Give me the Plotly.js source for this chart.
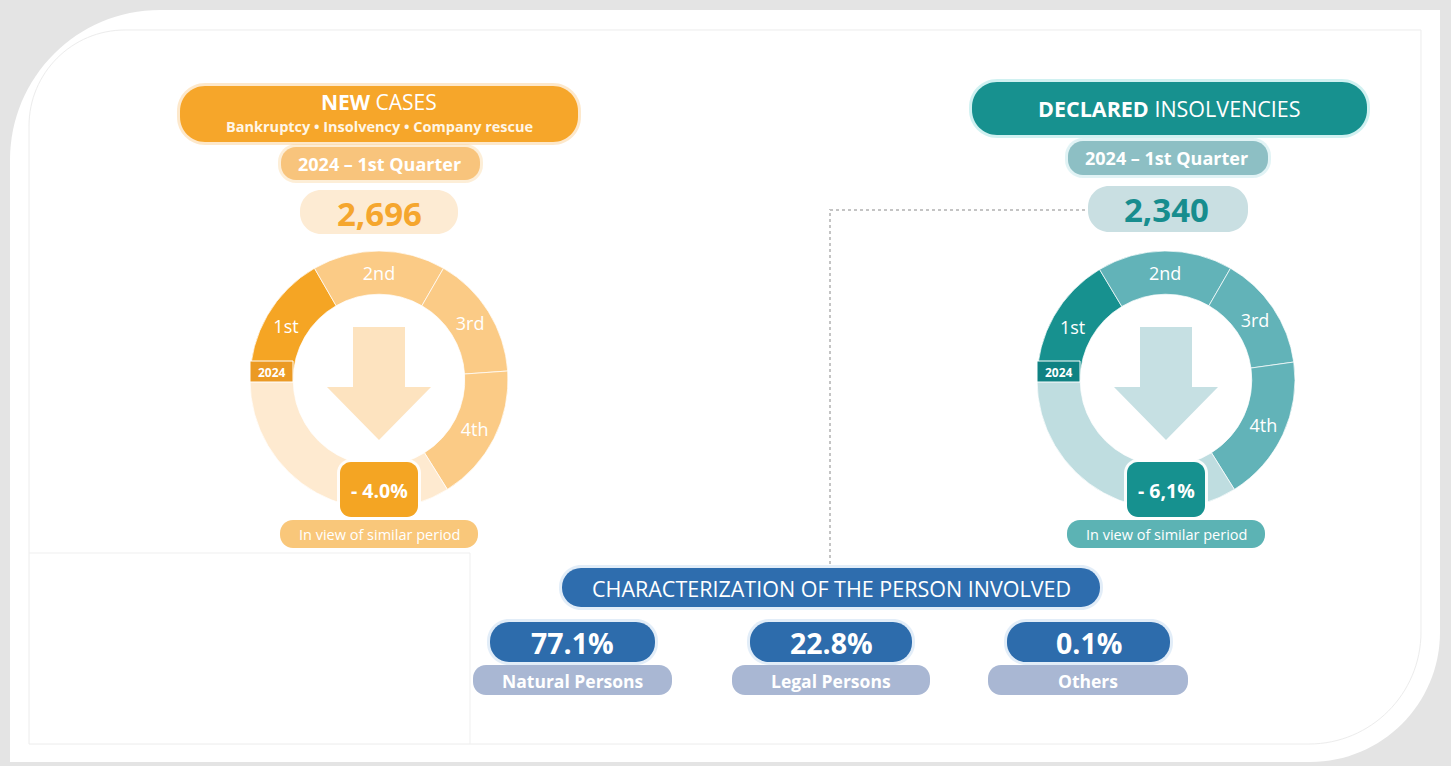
<!DOCTYPE html>
<html>
<head>
<meta charset="utf-8">
<script src="https://cdn.plot.ly/plotly-3.0.1.min.js"></script>
<style>html,body{margin:0;padding:0;background:#e4e4e4;}#chart{width:1451px;height:766px;}</style>
</head>
<body>
<div id="chart"></div>
<script>
// ---------------- DATA ----------------
const quarterLabels = ['1st', '2nd', '3rd', '4th'];
const periodLabel = '2024 – 1st Quarter';
const yearTag = '2024';
// arc sizes (degrees) of the quarter ring
const newCasesArcs = [60, 60, 56, 62];
const newCasesRest = [122];
const insolvencyArcs = [59, 61, 52, 66];
const insolvencyRest = [122];
const newCasesTotal = 2696;
const insolvencyTotal = 2340;
const newCasesChangeText = '- 4.0%';
const insolvencyChangeText = '- 6,1%';
const comparisonNote = 'In view of similar period';
const personCategories = ['Natural Persons', 'Legal Persons', 'Others'];
const personShares = [77.1, 22.8, 0.1];

// ---------------- HELPERS ----------------
const W = 1451, H = 766;
const FONT = '"Open Sans", "Noto Sans", sans-serif';
const px = x => x / W;
const py = y => 1 - y / H;
function rrPath(x0, y0, x1, y1, r) {
  const k = 0.5523 * r;
  const P = (x, y) => px(x).toFixed(5) + ',' + py(y).toFixed(5);
  return 'M' + P(x0 + r, y0) + ' L' + P(x1 - r, y0) +
    ' C' + P(x1 - r + k, y0) + ' ' + P(x1, y0 + r - k) + ' ' + P(x1, y0 + r) +
    ' L' + P(x1, y1 - r) +
    ' C' + P(x1, y1 - r + k) + ' ' + P(x1 - r + k, y1) + ' ' + P(x1 - r, y1) +
    ' L' + P(x0 + r, y1) +
    ' C' + P(x0 + r - k, y1) + ' ' + P(x0, y1 - r + k) + ' ' + P(x0, y1 - r) +
    ' L' + P(x0, y0 + r) +
    ' C' + P(x0, y0 + r - k) + ' ' + P(x0 + r - k, y0) + ' ' + P(x0 + r, y0) + ' Z';
}
function pathPx(cmds) {
  return cmds.map(c => {
    const pts = [];
    for (let i = 1; i < c.length; i += 2) pts.push(px(c[i]).toFixed(5) + ',' + py(c[i + 1]).toFixed(5));
    return c[0] + pts.join(' ');
  }).join(' ') + (cmds.closed === false ? '' : ' Z');
}
const shapes = [];
const annotations = [];
function pill(x0, y0, x1, y1, r, color, layer, glow) {
  if (glow) shapes.push({type: 'path', xref: 'paper', yref: 'paper', layer: layer || 'above',
    path: rrPath(x0 - 3, y0 - 3, x1 + 3, y1 + 3, r + 3), fillcolor: glow, line: {width: 0}});
  shapes.push({type: 'path', xref: 'paper', yref: 'paper', layer: layer || 'above',
    path: rrPath(x0, y0, x1, y1, r), fillcolor: color, line: {width: 0}});
}
function label(x, y, text, size, color, bold) {
  annotations.push({xref: 'paper', yref: 'paper', x: px(x), y: py(y), xanchor: 'center', yanchor: 'middle',
    text: bold ? '<b>' + text + '</b>' : text, showarrow: false,
    font: {family: FONT, size: size, color: color}});
}

// ---------------- BACKGROUND CARD ----------------
const k = 0.5523;
shapes.push({type: 'path', xref: 'paper', yref: 'paper', layer: 'below', fillcolor: '#ffffff', line: {width: 0},
  path: pathPx([['M', 160, 10], ['L', 1440, 10], ['L', 1440, 632],
    ['C', 1440, 632 + 130 * k, 1310 + 130 * k, 762, 1310, 762], ['L', 10, 762], ['L', 10, 160],
    ['C', 10, 160 - 150 * k, 160 - 150 * k, 10, 160, 10]])});
shapes.push({type: 'path', xref: 'paper', yref: 'paper', layer: 'below', fillcolor: 'rgba(0,0,0,0)',
  line: {width: 1, color: '#ececec'},
  path: pathPx([['M', 125, 30], ['L', 1421, 30], ['L', 1421, 632],
    ['C', 1421, 632 + 112 * k, 1309 + 112 * k, 744, 1309, 744], ['L', 29, 744], ['L', 29, 126],
    ['C', 29, 126 - 96 * k, 125 - 96 * k, 30, 125, 30]])});
shapes.push({type: 'line', xref: 'paper', yref: 'paper', layer: 'below', x0: px(29), x1: px(470), y0: py(553), y1: py(553), line: {width: 1, color: '#efefef'}});
shapes.push({type: 'line', xref: 'paper', yref: 'paper', layer: 'below', x0: px(470), x1: px(470), y0: py(553), y1: py(744), line: {width: 1, color: '#efefef'}});

// dotted connector
const dotted = [['M', 1085, 210], ['L', 830, 210], ['L', 830, 566]];
dotted.closed = false;
shapes.push({type: 'path', xref: 'paper', yref: 'paper', layer: 'below', fillcolor: 'rgba(0,0,0,0)',
  line: {width: 2, color: '#c4c4c4', dash: 'dot'}, path: pathPx(dotted)});

// ---------------- PANELS ----------------
function panel(cfg) {
  const cx = cfg.cx, cy = 380, R = 129;
  pill(cfg.head[0], cfg.head[1], cfg.head[2], cfg.head[3], 25, cfg.headColor, 'above', cfg.glow);
  pill(cfg.period[0], cfg.period[1], cfg.period[2], cfg.period[3], 15, cfg.periodColor, 'above', cfg.glow2);
  label(cx, (cfg.period[1] + cfg.period[3]) / 2, periodLabel, 18, '#ffffff', true);
  pill(cfg.total[0], cfg.total[1], cfg.total[2], cfg.total[3], 21, cfg.totalBg, 'above');
  label(cx, (cfg.total[1] + cfg.total[3]) / 2 + 1, cfg.totalValue.toLocaleString('en-US'), 33, cfg.totalColor, true);
  shapes.push({type: 'path', xref: 'paper', yref: 'paper', layer: 'above', fillcolor: cfg.arrowColor, line: {width: 0},
    path: pathPx([['M', cx - 26, 327], ['L', cx + 26, 327], ['L', cx + 26, 387], ['L', cx + 52, 387],
      ['L', cx, 440], ['L', cx - 52, 387], ['L', cx - 26, 387]])});
  shapes.push({type: 'rect', xref: 'paper', yref: 'paper', layer: 'above', x0: px(cx - R), x1: px(cx - R + 43),
    y0: py(361), y1: py(382), fillcolor: cfg.tagColor, line: {width: 1, color: '#ffffff'}});
  label(cx - R + 21.5, 372, yearTag, 12, '#ffffff', true);
  pill(cx - 39, 462, cx + 39, 517, 11, cfg.badgeColor, 'above', 'rgba(255,255,255,0.9)');
  label(cx, 490, cfg.changeText, 19.5, '#ffffff', true);
  pill(cx - 99, 520, cx + 99, 548, 13, cfg.noteColor, 'above');
  label(cx, 534, comparisonNote, 14.5, '#ffffff', false);
  return {
    type: 'pie', sort: false, direction: 'clockwise', rotation: -90, hole: 0.665,
    values: cfg.arcs.concat(cfg.rest), labels: quarterLabels.concat(['rest']),
    text: quarterLabels.concat(['']), textinfo: 'text', textposition: 'inside',
    insidetextorientation: 'horizontal',
    textfont: {family: FONT, size: 18, color: '#ffffff'},
    marker: {colors: cfg.ringColors, line: {color: 'rgba(255,255,255,0.7)', width: 1}},
    domain: {x: [px(cx - R), px(cx + R)], y: [py(cy + R), py(cy - R)]},
    hoverinfo: 'none', showlegend: false
  };
}

const leftPie = panel({
  cx: 379, arcs: newCasesArcs, rest: newCasesRest, totalValue: newCasesTotal, changeText: newCasesChangeText,
  head: [180, 86, 578, 142], headColor: '#f6a62a', glow: 'rgba(250,205,140,0.45)', glow2: 'rgba(250,205,140,0.35)',
  period: [281, 147, 480, 180], periodColor: '#f8c47c',
  total: [300, 190, 458, 234], totalBg: '#fdebd3', totalColor: '#f5a62e',
  arrowColor: '#fde3bf', tagColor: '#eb9a24', badgeColor: '#f4a523', noteColor: '#f9c77a',
  ringColors: ['#f5a524', '#fbcb86', '#fbcb86', '#fbcb86', '#feead0']
});
label(379, 102, '<b>NEW</b> CASES', 21, '#ffffff', false);
label(379, 126, 'Bankruptcy • Insolvency • Company rescue', 14.5, '#fff6e6', true);

const rightPie = panel({
  cx: 1166, arcs: insolvencyArcs, rest: insolvencyRest, totalValue: insolvencyTotal, changeText: insolvencyChangeText,
  head: [972, 82, 1367, 135], headColor: '#17918f', glow: 'rgba(150,225,225,0.45)', glow2: 'rgba(170,220,225,0.35)',
  period: [1068, 141, 1268, 175], periodColor: '#8dbfc4',
  total: [1088, 186, 1248, 232], totalBg: '#c9dfe2', totalColor: '#178d8e',
  arrowColor: '#c6e0e3', tagColor: '#0f8283', badgeColor: '#16918f', noteColor: '#5cb3b4',
  ringColors: ['#17918f', '#62b3b8', '#62b3b8', '#62b3b8', '#bfdde0']
});
label(1169, 108, '<b>DECLARED</b> INSOLVENCIES', 21.5, '#ffffff', false);

// ---------------- CHARACTERIZATION ----------------
pill(562, 568, 1100, 607, 19, '#2e6dae', 'above', 'rgba(190,215,240,0.45)');
label(831, 588, 'CHARACTERIZATION OF THE PERSON INVOLVED', 21.5, '#ffffff', false);
const valueBoxes = [[490, 655], [750, 912], [1007, 1170]];
const labelBoxes = [[473, 672], [732, 930], [988, 1188]];
personCategories.forEach((cat, i) => {
  pill(labelBoxes[i][0], 665, labelBoxes[i][1], 695, 13, '#a9b7d3', 'above');
  label((labelBoxes[i][0] + labelBoxes[i][1]) / 2, 681, cat, 17.5, '#ffffff', true);
  pill(valueBoxes[i][0], 622, valueBoxes[i][1], 662, 19, '#2d6cac', 'above', 'rgba(190,215,240,0.45)');
  label((valueBoxes[i][0] + valueBoxes[i][1]) / 2, 643, personShares[i].toFixed(1) + '%', 28.5, '#ffffff', true);
});

const layout = {
  width: W, height: H, margin: {l: 0, r: 0, t: 0, b: 0},
  paper_bgcolor: '#e4e4e4', plot_bgcolor: 'rgba(0,0,0,0)',
  showlegend: false, shapes: shapes, annotations: annotations,
  font: {family: FONT}
};
Plotly.newPlot('chart', [leftPie, rightPie], layout, {displayModeBar: false, staticPlot: true});
</script>
</body>
</html>
